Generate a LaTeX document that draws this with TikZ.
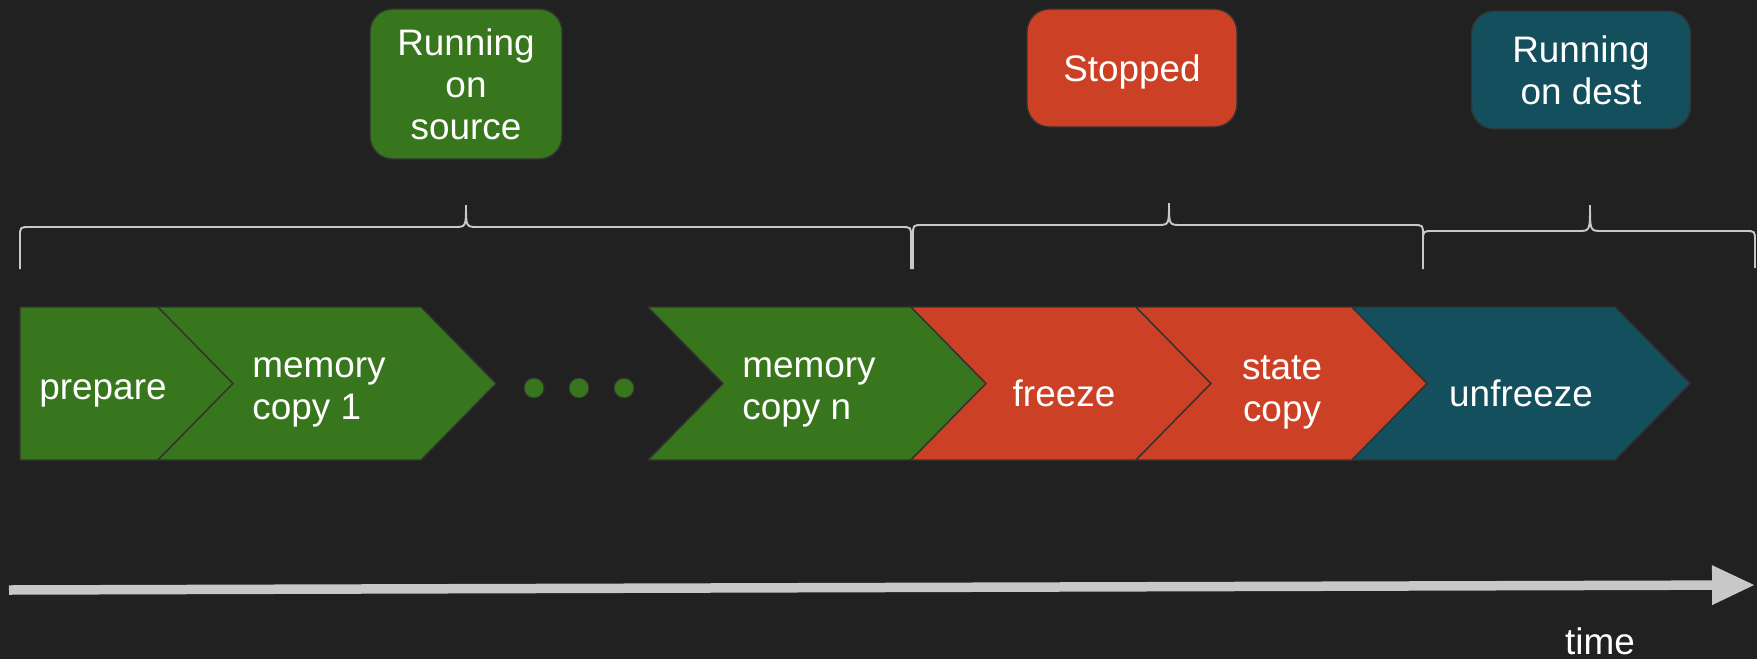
\documentclass[tikz,border=0pt]{standalone}
\usepackage{fontspec}
\setmainfont{Liberation Sans}
\usetikzlibrary{arrows.meta}

\definecolor{fond}{HTML}{212121}
\definecolor{vert}{HTML}{38761D}
\definecolor{rouge}{HTML}{CC4125}
\definecolor{bleu}{HTML}{134F5C}
\definecolor{bord}{HTML}{333333}
\definecolor{gris}{HTML}{C8C8C8}

\begin{document}
\begin{tikzpicture}[
  x=0.02cm, y=-0.02cm,
  txt/.style={text=white, font=\fontsize{21}{24}\selectfont, inner sep=0pt},
  phasebox/.style={draw=bord, line width=0.8pt},
  statebox/.style={txt, draw=bord, line width=0.8pt, rounded corners=0.45cm,
                   align=center},
  bracepath/.style={draw=gris, line width=1.1pt},
  timeline/.style={draw=gris, line width=0.19cm,
                   -{Triangle[length=0.86cm, width=0.74cm]}}
]
  % Fond
  \fill[fond] (0,0) rectangle (1757,659);
  \useasboundingbox (0,0) rectangle (1757,659);

  % Etats de la VM
  \node[statebox, fill=vert, minimum width=3.84cm, minimum height=3.0cm]
    (src) at (466,84) {Running\\on\\source};
  \node[statebox, fill=rouge, minimum width=4.2cm, minimum height=2.36cm,
        text depth=0pt] (stop) at (1132,68) {Stopped};
  \node[statebox, fill=bleu, minimum width=4.38cm, minimum height=2.36cm]
    (dest) at (1581,70) {Running\\on dest};

  % Accolades
  \foreach \a/\m/\b/\t/\h/\d in {20/466/911/205/227/269,
                                 913/1169/1423/203/225/269,
                                 1423/1590/1755/205/231/268} {
    \draw[bracepath] (\a,\d) -- (\a,\h+10) .. controls (\a,\h) .. (\a+10,\h)
      -- (\m-12,\h) .. controls (\m,\h) .. (\m,\t)
      .. controls (\m,\h) .. (\m+12,\h) -- (\b-10,\h)
      .. controls (\b,\h) .. (\b,\h+10) -- (\b,\d);
  }

  % Etapes
  \filldraw[phasebox, fill=vert] (20,307) -- (158,307) -- (233,383.5)
    -- (158,460) -- (20,460) -- cycle;
  \foreach \l/\r/\c in {158/421/vert, 648/911/vert, 911/1136/rouge,
                        1136/1352/rouge, 1352/1615/bleu} {
    \filldraw[phasebox, fill=\c] (\l,307) -- (\r,307) -- (\r+75,383.5)
      -- (\r,460) -- (\l,460) -- (\l+75,383.5) -- cycle;
  }

  % Points de suspension
  \foreach \x in {534,579,624} {
    \filldraw[fill=vert, draw=bord, line width=0.6pt] (\x,388) circle[radius=0.2cm];
  }

  \node[txt] (prepare) at (103,393) {prepare};
  \node[txt, align=left, anchor=west] (mem1) at (252,392) {memory\\copy 1};
  \node[txt, align=left, anchor=west] (memn) at (742,392) {memory\\copy n};
  \node[txt] (freeze) at (1064,393) {freeze};
  \node[txt, align=center] (statecp) at (1282,392) {state\\copy};
  \node[txt] (unfreeze) at (1521,393) {unfreeze};

  % Axe du temps
  \coordinate (t0) at (9,590);
  \coordinate (t1) at (1755,585);
  \draw[timeline] (t0) -- (t1);
  \node[txt] (time) at (1600,641) {time};
\end{tikzpicture}
\end{document}
